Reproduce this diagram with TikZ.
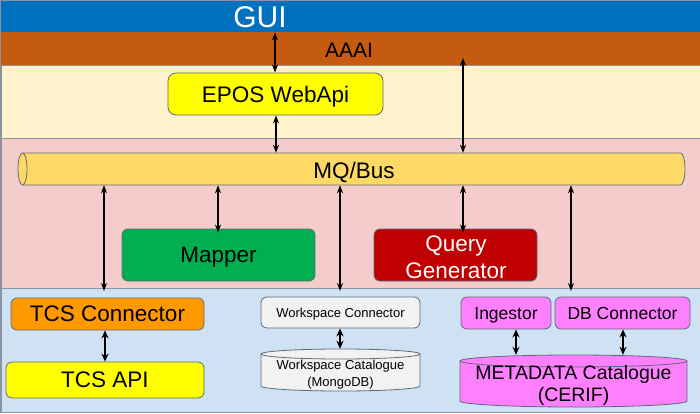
\documentclass[tikz,border=0pt]{standalone}
\usepackage{fontspec}
\setmainfont{Liberation Sans}
\usetikzlibrary{arrows.meta}
\definecolor{guiblue}{HTML}{0070C0}
\definecolor{aaaic}{HTML}{C55A11}
\definecolor{lyellow}{HTML}{FFF2CC}
\definecolor{lpink}{HTML}{F4CCCC}
\definecolor{lblue}{HTML}{CFE2F3}
\definecolor{busc}{HTML}{FFD966}
\definecolor{mapc}{HTML}{00B050}
\definecolor{qgc}{HTML}{C00000}
\definecolor{tcsc}{HTML}{FF9900}
\definecolor{yelc}{HTML}{FFFF00}
\definecolor{wsc}{HTML}{F2F2F2}
\definecolor{magc}{HTML}{FF80FF}
\definecolor{bordc}{HTML}{5F6B7A}
\definecolor{bandl}{HTML}{8C939C}
\begin{document}
\begin{tikzpicture}[x=1pt,y=-1pt,
  box/.style={draw=bordc, line width=0.8pt, rounded corners=6pt, inner sep=0pt, align=center},
  onel/.style={text depth=0pt},
  shapeline/.style={draw=bordc, line width=0.8pt},
  arr/.style={{Stealth[length=8pt,width=6pt]}-{Stealth[length=8pt,width=6pt]}, line width=1.2pt, black},
  thickarr/.style={{Stealth[length=8pt,width=7pt]}-{Stealth[length=8pt,width=7pt]}, line width=1.7pt, black},
  bigf/.style={font=\fontsize{22.5}{27}\selectfont},
  midf/.style={font=\fontsize{17.5}{21}\selectfont},
  smallf/.style={font=\fontsize{13}{17}\selectfont}]
\useasboundingbox (0,0) rectangle (700,414);
% bands
\node[fill=guiblue, inner sep=0pt, minimum width=699pt, minimum height=31.5pt, anchor=north west] (guiband) at (0.5,0.5) {};
\node[fill=aaaic, inner sep=0pt, minimum width=699pt, minimum height=33pt, anchor=north west] (aaaiband) at (0.5,32) {};
\node[fill=lyellow, draw=bandl, line width=0.8pt, inner sep=0pt, minimum width=699pt, minimum height=73pt, anchor=north west] (webband) at (0.5,65) {};
\node[fill=lpink, draw=bandl, line width=0.8pt, inner sep=0pt, minimum width=699pt, minimum height=150pt, anchor=north west] (busband) at (0.5,138) {};
\node[fill=lblue, draw=bandl, line width=0.8pt, inner sep=0pt, minimum width=699pt, minimum height=124pt, anchor=north west] (databand) at (0.5,288) {};
\draw[draw=bandl, line width=0.8pt] (guiband.north west) rectangle (databand.south east);
\node[text=white, font=\fontsize{30}{30}\selectfont] (gui) at (260,17) {GUI};
\node[text=black, font=\fontsize{21}{21}\selectfont] (aaai) at (349,50) {AAAI};
% EPOS
\node[box, onel, fill=yelc, bigf, minimum width=215pt, minimum height=42pt, rounded corners=8pt] (epos) at (275.5,94) {EPOS WebApi};
% MQ bus
\node[inner sep=0pt, minimum width=667pt, minimum height=32pt] (mq) at (351.5,169) {};
\path[fill=busc, shapeline] (22.5,153) -- (680.5,153) arc[start angle=-90, end angle=90, x radius=4.5, y radius=16]
  -- (22.5,185) arc[start angle=90, end angle=270, x radius=4.5, y radius=16] -- cycle;
\draw[shapeline] (22.5,153) arc[start angle=-90, end angle=90, x radius=4.5, y radius=16];
\node[bigf, onel] (mqlbl) at (354,170) {MQ/Bus};
% middle boxes
\node[box, onel, fill=mapc, bigf, minimum width=193pt, minimum height=52pt] (mapper) at (218.5,255) {Mapper};
\node[box, fill=qgc, bigf, text=white, minimum width=163pt, minimum height=52pt] (query) at (455.5,255) {};
\node[bigf, text=white, align=center] (querylbl) at (456,257) {Query\\Generator};
% bottom boxes
\node[box, onel, fill=tcsc, bigf, minimum width=193pt, minimum height=32pt] (tcscon) at (107.5,314) {TCS Connector};
\node[box, onel, fill=yelc, bigf, minimum width=198pt, minimum height=36pt] (tcsapi) at (105,380) {TCS API};
\node[box, onel, fill=wsc, smallf, minimum width=159pt, minimum height=31pt] (wscon) at (340.5,312.5) {Workspace Connector};
\node[box, onel, fill=magc, midf, minimum width=90pt, minimum height=32pt] (ing) at (506,313) {Ingestor};
\node[box, onel, fill=magc, midf, minimum width=135pt, minimum height=32pt] (dbc) at (622.5,313) {DB Connector};
% workspace cylinder
\node[inner sep=0pt, minimum width=159pt, minimum height=42pt] (wscat) at (340.5,370) {};
\path[fill=wsc, shapeline] (261,354) -- (261,386) arc[start angle=180, end angle=0, x radius=79.5, y radius=5]
  -- (420,354) arc[start angle=0, end angle=-180, x radius=79.5, y radius=5] -- cycle;
\draw[shapeline] (261,354) arc[start angle=180, end angle=0, x radius=79.5, y radius=5];
\node[smallf, align=center] (wscatlbl) at (340.5,374.5) {Workspace Catalogue\\(MongoDB)};
% metadata cylinder
\node[inner sep=0pt, minimum width=227pt, minimum height=52pt] (meta) at (573.5,381) {};
\path[fill=magc, shapeline] (460,361) -- (460,401) arc[start angle=180, end angle=0, x radius=113.5, y radius=6]
  -- (687,361) arc[start angle=0, end angle=-180, x radius=113.5, y radius=6] -- cycle;
\draw[shapeline] (460,361) arc[start angle=180, end angle=0, x radius=113.5, y radius=6];
\node[font=\fontsize{19.5}{22}\selectfont, align=center] (metalbl) at (573.5,385) {METADATA Catalogue\\(CERIF)};
% connectors
\coordinate (qtop) at (463,58);
\coordinate (tcstop) at (104,291);
\coordinate (wstop) at (340,291);
\coordinate (dbtop) at (571,291);
\draw[arr] (275,0 |- guiband.south) -- (275,0 |- epos.north);
\draw[arr] (276,0 |- epos.south) -- (276,0 |- mq.north);
\draw[arr] (qtop) -- (463,0 |- mq.north);
\draw[arr] (104,0 |- mq.south) -- (tcstop);
\draw[arr] (218,0 |- mq.south) -- ([yshift=-4pt]218,0 |- mapper.north);
\draw[arr] (340,0 |- mq.south) -- (wstop);
\draw[arr] (463,0 |- mq.south) -- ([yshift=-4pt]463,0 |- query.north);
\draw[arr] (571,0 |- mq.south) -- (dbtop);
\draw[thickarr] (105,0 |- tcscon.south) -- (105,0 |- tcsapi.north);
\draw[thickarr] (340,0 |- wscon.south) -- (340,0 |- wscat.north);
\draw[thickarr] (516,0 |- ing.south) -- (516,0 |- meta.north);
\draw[thickarr] (623,0 |- dbc.south) -- (623,0 |- meta.north);
\end{tikzpicture}
\end{document}
